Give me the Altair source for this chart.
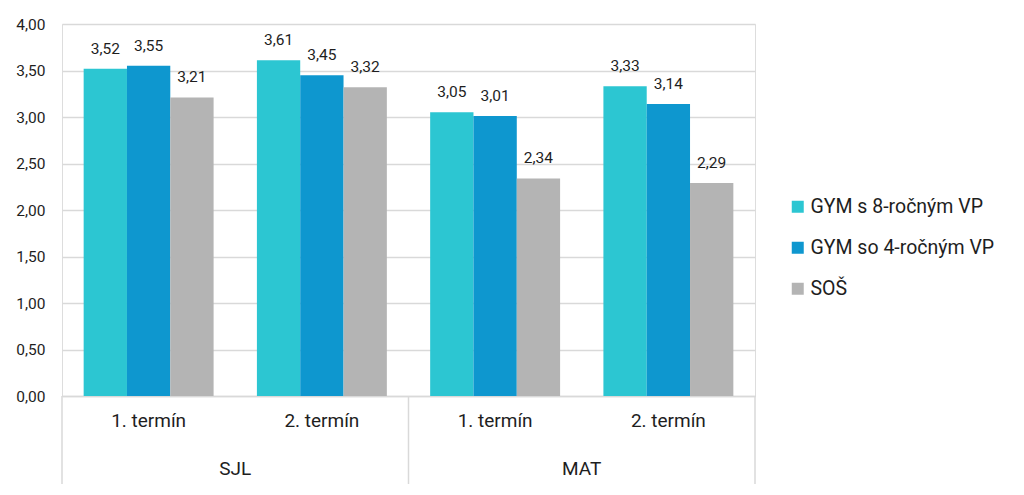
import altair as alt
import pandas as pd

subjects = ["SJL", "SJL", "MAT", "MAT"]
terms = ["1. termín", "2. termín", "1. termín", "2. termín"]
series = ["GYM s 8-ročným VP", "GYM so 4-ročným VP", "SOŠ"]
gym8 = [3.52, 3.61, 3.05, 3.33]
gym4 = [3.55, 3.45, 3.01, 3.14]
sos = [3.21, 3.32, 2.34, 2.29]
colors = ["#2CC6D2", "#0E97CF", "#B4B4B4"]
y_ticks = [0, 0.5, 1, 1.5, 2, 2.5, 3, 3.5, 4]

keys = [f"{s}|{t}" for s, t in zip(subjects, terms)]
subject_groups = ["SJL", "MAT"]
rows = []
for vals, name in zip([gym8, gym4, sos], series):
    for k, v in zip(keys, vals):
        rows.append({"key": k, "series": name, "value": v,
                     "label": f"{v:.2f}".replace(".", ",")})
df = pd.DataFrame(rows)

FONT = "Roboto"
W, H = 693, 372
GRID = "#D9D9D9"
TXT = "#1E1E1E"

xscale = alt.Scale(domain=keys, paddingInner=0.25, paddingOuter=0.125)
edge_scale = alt.Scale(domain=keys, paddingInner=0, paddingOuter=0)
subj_scale = alt.Scale(domain=subject_groups, paddingInner=0, paddingOuter=0)
xoff = alt.XOffset("series:N", sort=series, scale=alt.Scale(domain=series, paddingInner=0, paddingOuter=0))
yscale = alt.Scale(domain=[0, 4], nice=False)

bars = alt.Chart(df).mark_bar().encode(
    x=alt.X("key:N", sort=keys, scale=xscale, title=None,
            axis=alt.Axis(labelExpr="split(datum.label, '|')[1]", labelAngle=0,
                          ticks=False, domain=True, domainColor=GRID, domainWidth=1.5,
                          labelFontSize=19, labelFont=FONT, labelColor=TXT,
                          labelPadding=15, grid=False)),
    xOffset=xoff,
    y=alt.Y("value:Q", scale=yscale, title=None,
            axis=alt.Axis(values=y_ticks, labelExpr="replace(format(datum.value, '.2f'), '.', ',')",
                          ticks=False, domain=False, grid=True, gridColor=GRID, gridWidth=1.5,
                          labelFontSize=15.5, labelFont=FONT, labelColor=TXT, labelPadding=17)),
    color=alt.Color("series:N", sort=series, scale=alt.Scale(domain=series, range=colors),
                    legend=alt.Legend(title=None, orient="none", legendX=726, legendY=173,
                                      symbolType="square", symbolSize=144, symbolStrokeWidth=0,
                                      labelFontSize=19.5, labelFont=FONT, labelColor=TXT,
                                      labelLimit=0, rowPadding=20, labelOffset=3)),
)

labels = alt.Chart(df).mark_text(fontSize=15.5, font=FONT, color=TXT, dy=-12, baseline="bottom").encode(
    x=alt.X("key:N", sort=keys, scale=xscale, axis=None),
    xOffset=xoff,
    y=alt.Y("value:Q", scale=yscale),
    text="label:N",
)

seps_left = alt.Chart(pd.DataFrame({"key": [keys[0], keys[2]]})).mark_rule(color=GRID, strokeWidth=1.5).encode(
    x=alt.X("key:N", sort=keys, scale=edge_scale, bandPosition=0, axis=None),
    y=alt.value(H), y2=alt.value(H + 88),
)
seps_right = alt.Chart(pd.DataFrame({"key": [keys[3]]})).mark_rule(color=GRID, strokeWidth=1.5).encode(
    x=alt.X("key:N", sort=keys, scale=edge_scale, bandPosition=1, axis=None),
    y=alt.value(H), y2=alt.value(H + 88),
)

subj = alt.Chart(pd.DataFrame({"subject": subject_groups})).mark_text(
    fontSize=19, font=FONT, color=TXT, baseline="middle").encode(
    x=alt.X("subject:N", sort=subject_groups, scale=subj_scale, axis=None),
    y=alt.value(H + 73),
    text="subject:N",
)

chart = alt.layer(bars, labels, seps_left, seps_right, subj).resolve_scale(
    x="independent"
).properties(
    width=W, height=H,
    autosize=alt.AutoSizeParams(type="none"),
    padding={"left": 62, "top": 24, "right": 1024 - 62 - W, "bottom": 495 - 24 - H},
).configure_view(stroke=None).configure(font=FONT)

chart.save("out.html", embed_options={"renderer": "svg", "actions": False})
